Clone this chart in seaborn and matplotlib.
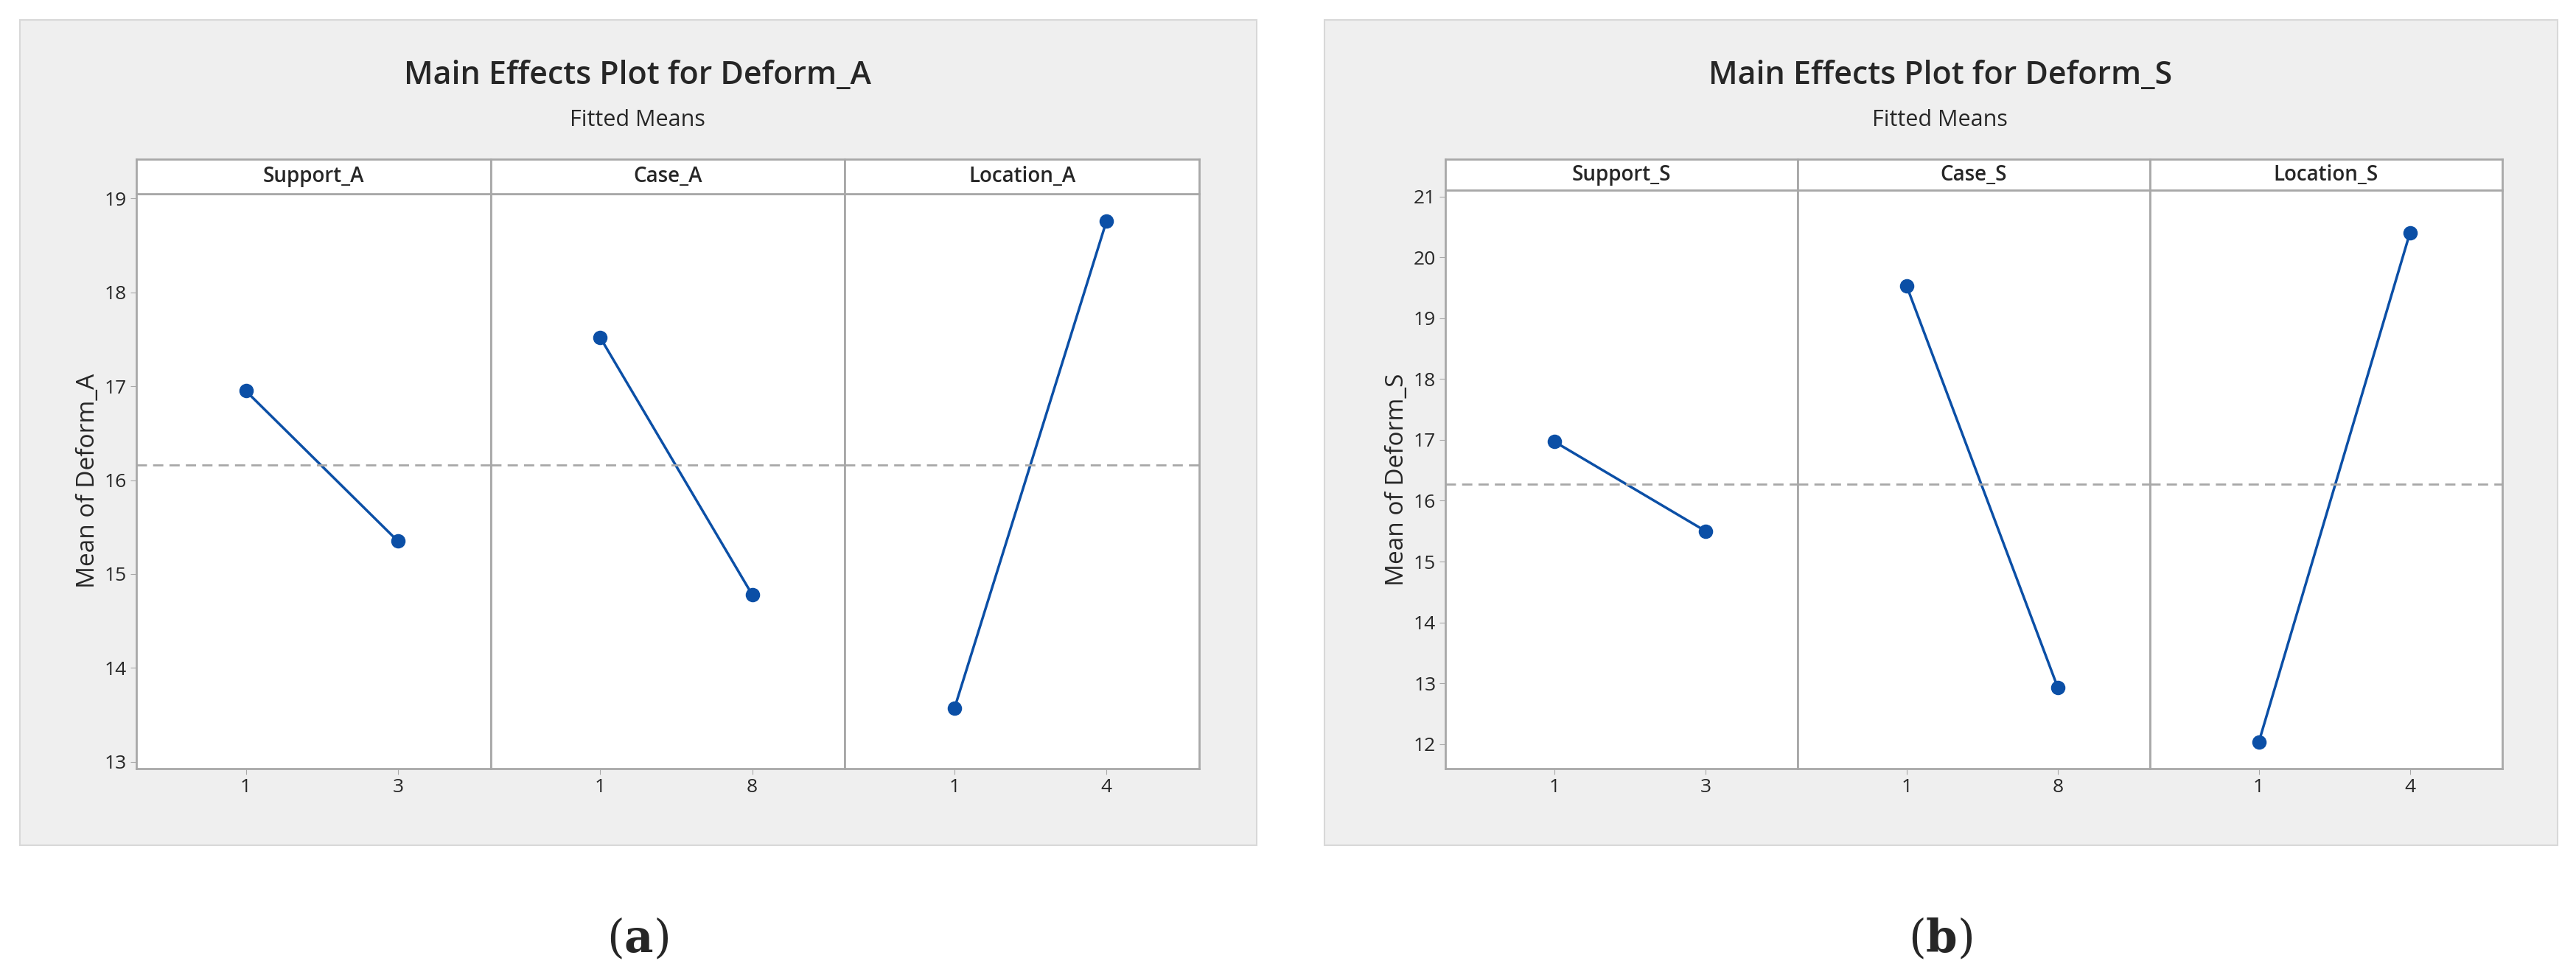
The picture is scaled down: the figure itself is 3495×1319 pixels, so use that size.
import matplotlib
matplotlib.use("Agg")
import matplotlib.pyplot as plt
import seaborn as sns
import pandas as pd
from matplotlib.patches import Rectangle

sns.set_style("white")
plt.rcParams['font.family'] = ['Open Sans', 'DejaVu Sans']
plt.rcParams['mathtext.fontset'] = 'dejavuserif'

factors_A = ["Support_A", "Case_A", "Location_A"]
levels_A = [["1", "3"], ["1", "8"], ["1", "4"]]
means_A = [[16.95, 15.35], [17.52, 14.78], [13.57, 18.76]]
grand_A = 16.16

factors_S = ["Support_S", "Case_S", "Location_S"]
levels_S = [["1", "3"], ["1", "8"], ["1", "4"]]
means_S = [[16.97, 15.50], [19.53, 12.93], [12.03, 20.40]]
grand_S = 16.27

W, H = 1568, 592
fig = plt.figure(figsize=(34.95, 13.19), dpi=100)
LINE = "#0b4fa6"
GRAY = "#a8a8a8"

def fx(x): return x / W
def fy(y): return 1 - y / H

def panel(x0, x1, box, title, ylabel, factors, levels, means, grand, ylim, yticks, top, cap, cx):
    fig.patches.append(Rectangle((fx(box[0]), fy(box[3])), fx(box[2]-box[0]), (box[3]-box[1])/H,
                                 transform=fig.transFigure, facecolor="#efefef", edgecolor="#d8d8d8", lw=1.5, zorder=-5))
    fig.text(fx(cx), fy(46), title, ha="center", va="center", fontsize=31, weight="semibold")
    fig.text(fx(cx), fy(73), "Fitted Means", ha="center", va="center", fontsize=22)
    fig.text(fx(cx), fy(572), cap, ha="center", va="center", fontsize=44, family="DejaVu Serif")
    fw = (x1 - x0) / 3
    bottom = 468
    for i in range(3):
        ax = fig.add_axes([fx(x0 + i*fw), fy(bottom), fx(fw), (bottom-top)/H])
        sax = fig.add_axes([fx(x0 + i*fw), fy(top), fx(fw), (top-97)/H])
        df = pd.DataFrame({"x": [0, 1], "y": means[i]})
        sns.lineplot(data=df, x="x", y="y", ax=ax, color=LINE, lw=2.5)
        sns.scatterplot(data=df, x="x", y="y", ax=ax, color=LINE, s=170, edgecolor=LINE, zorder=3)
        ax.axhline(grand, color=GRAY, ls=(0, (5, 3)), lw=2)
        ax.set_xlim(-0.72, 1.61)
        ax.set_ylim(*ylim)
        ax.set_xticks([0, 1])
        ax.set_xticklabels(levels[i])
        ax.set_xlabel("")
        ax.set_ylabel("")
        ax.tick_params(labelsize=19, length=6, color=GRAY, direction="out", bottom=True, left=(i == 0))
        if i == 0:
            ax.set_yticks(yticks)
            ax.set_ylabel(ylabel, fontsize=24)
        else:
            ax.set_yticks([])
        for s in ax.spines.values():
            s.set_color(GRAY); s.set_linewidth(2)
        ax.set_facecolor("white")
        sax.set_xticks([]); sax.set_yticks([])
        sax.set_facecolor("white")
        for s in sax.spines.values():
            s.set_color(GRAY); s.set_linewidth(2)
        sax.text(0.5, 0.5, factors[i], ha="center", va="center", fontsize=20, weight="semibold", transform=sax.transAxes)
    return ax

panel(83, 730, (12, 12, 765, 515), "Main Effects Plot for Deform_A", "Mean of Deform_A",
      factors_A, levels_A, means_A, grand_A, (12.93, 19.05), [13, 14, 15, 16, 17, 18, 19], 118, r"($\mathbf{a}$)", 388)
panel(880, 1523, (806, 12, 1557, 515), "Main Effects Plot for Deform_S", "Mean of Deform_S",
      factors_S, levels_S, means_S, grand_S, (11.6, 21.1), list(range(12, 22)), 116, r"($\mathbf{b}$)", 1181)

fig.savefig("out.png", dpi=100, facecolor="white")
